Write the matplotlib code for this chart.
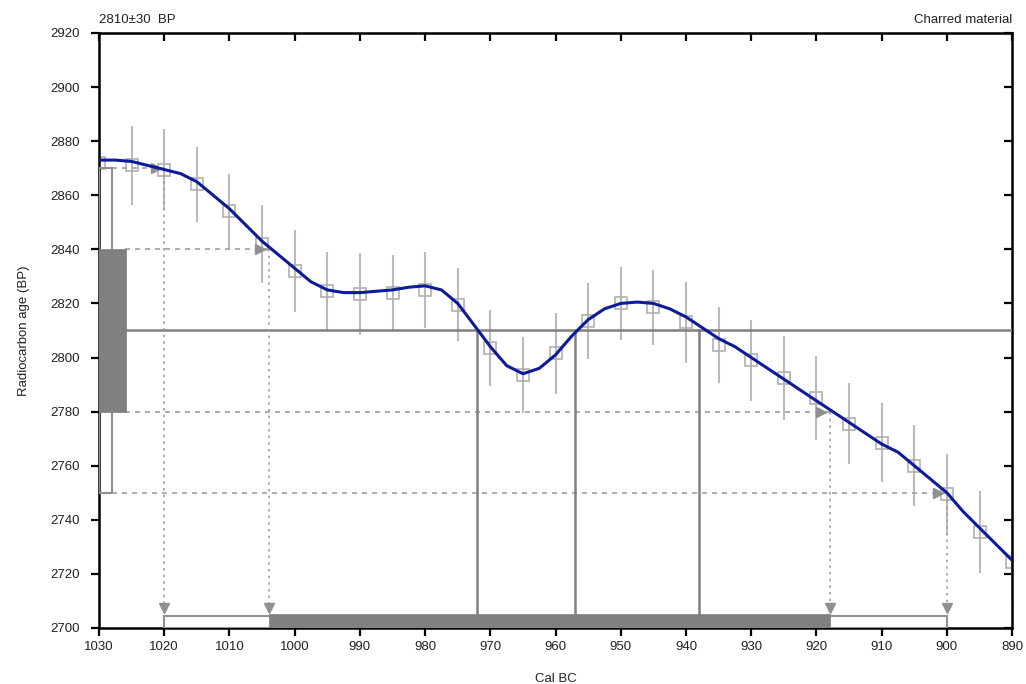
import matplotlib
matplotlib.use("Agg")
import matplotlib.pyplot as plt
from matplotlib.patches import Rectangle

plt.rcParams['font.family'] = ['Liberation Sans', 'DejaVu Sans']

# calibration data points (every 5 years)
cal_years = [1030, 1025, 1020, 1015, 1010, 1005, 1000, 995, 990, 985, 980, 975, 970, 965,
             960, 955, 950, 945, 940, 935, 930, 925, 920, 915, 910, 905, 900, 895, 890]
cal_age = [2872, 2871, 2869.5, 2864, 2854, 2842, 2832, 2824.5, 2823.5, 2824, 2825, 2819.5, 2803.5, 2793.5,
           2801.5, 2813.5, 2820, 2818.5, 2813, 2804.5, 2799, 2792.5, 2785, 2775.5, 2768.5, 2760, 2749.5, 2735.5, 2724.5]
cal_err = [15, 14.6, 15, 14, 14, 14.5, 15, 14.6, 15, 14, 14, 13.5, 14, 14,
           15, 14, 13.5, 14, 15, 14, 15, 15.5, 15.5, 15, 14.5, 15, 15, 15, 14.5]

# smoothed calibration curve
curve_years = [1030, 1027.5, 1025, 1022.5, 1020, 1017.5, 1015, 1012.5, 1010, 1007.5, 1005, 1002.5,
               1000, 997.5, 995, 992.5, 990, 987.5, 985, 982.5, 980, 977.5, 975, 972.5, 970, 967.5,
               965, 962.5, 960, 957.5, 955, 952.5, 950, 947.5, 945, 942.5, 940, 937.5, 935, 932.5,
               930, 927.5, 925, 922.5, 920, 917.5, 915, 912.5, 910, 907.5, 905, 902.5, 900, 897.5,
               895, 892.5, 890]
curve_age = [2873, 2873, 2872.5, 2871, 2869.5, 2868, 2865, 2860, 2855, 2849, 2843, 2838,
             2833, 2828, 2825, 2824, 2824, 2824.5, 2825, 2826, 2826.5, 2825, 2820, 2812, 2804, 2797,
             2794, 2796, 2801, 2808, 2814, 2818, 2820, 2820.5, 2820, 2818, 2815, 2811, 2807, 2804,
             2800, 2796, 2792, 2788, 2784, 2780, 2776, 2772, 2768, 2765, 2760, 2755, 2750, 2743,
             2737, 2731, 2725]

# measurement
c14_age = 2810
c14_sigma = 30
one_sigma = (2780, 2840)
two_sigma = (2750, 2870)

# calibrated ranges (Cal BC)
range_2s = (1020, 900)
range_1s = (1004, 918)
intercepts = [972, 957, 938]

xticks = list(range(1030, 889, -10))
yticks = list(range(2700, 2921, 20))

fig = plt.figure(figsize=(10.26, 6.84), dpi=100)
ax = fig.add_axes([0.0965, 0.0819, 0.89, 0.8699])
ax.set_xlim(1030, 890)
ax.set_ylim(2700, 2920)

gray = '#808080'
lgray = '#bababa'

# error bars
ax.errorbar(cal_years, cal_age, yerr=cal_err, fmt='s', mfc='none', mec='#b0b0b0', ms=8, mew=1.2,
            ecolor=lgray, elinewidth=1.5, capsize=0, zorder=2)

# horizontal measurement line
ax.plot([1026, 890], [c14_age, c14_age], color=gray, lw=1.8, zorder=3)

# dashed horizontal lines to the curve
ax.plot([1028, range_2s[0]], [two_sigma[1]] * 2, color='#a0a0a0', lw=1.2, ls=(0, (3, 3)), zorder=3)
ax.plot([1026, range_1s[0]], [one_sigma[1]] * 2, color='#a0a0a0', lw=1.2, ls=(0, (3, 3)), zorder=3)
ax.plot([1026, range_1s[1]], [one_sigma[0]] * 2, color='#a0a0a0', lw=1.2, ls=(0, (3, 3)), zorder=3)
ax.plot([1028, range_2s[1]], [two_sigma[0]] * 2, color='#a0a0a0', lw=1.2, ls=(0, (3, 3)), zorder=3)

# right-pointing arrowheads
for xv, yv in [(range_2s[0], two_sigma[1]), (range_1s[0], one_sigma[1]),
               (range_1s[1], one_sigma[0]), (range_2s[1], two_sigma[0])]:
    ax.plot([xv + 1.3], [yv], marker='>', color='#909090', ms=7, zorder=3)

# dotted vertical lines
for xv, yv in [(range_2s[0], two_sigma[1]), (range_1s[0], one_sigma[1]),
               (range_1s[1], one_sigma[0]), (range_2s[1], two_sigma[0])]:
    ax.plot([xv, xv], [yv, 2707], color='#a0a0a0', lw=1.2, ls=(0, (1.5, 2.5)), zorder=3)
    ax.plot([xv], [2707.5], marker='v', color='#909090', ms=7, zorder=3)

# intercept verticals
for xv in intercepts:
    ax.plot([xv, xv], [2700, c14_age], color=gray, lw=1.8, zorder=3)

# calibrated range bars
ax.add_patch(Rectangle((range_2s[1], 2700), range_2s[0] - range_2s[1], 4.6,
                       fill=False, ec='#909090', lw=1.5, zorder=4))
ax.add_patch(Rectangle((range_1s[1], 2700), range_1s[0] - range_1s[1], 5.3,
                       fc=gray, ec=gray, lw=0.5, zorder=4))

# measurement probability boxes on the left
ax.add_patch(Rectangle((1030, two_sigma[0]), -2.0, two_sigma[1] - two_sigma[0],
                       fill=False, ec='#909090', lw=1.5, zorder=4))
ax.add_patch(Rectangle((1030, one_sigma[0]), -4.1, one_sigma[1] - one_sigma[0],
                       fc=gray, ec=gray, lw=0.5, zorder=4))

# calibration curve
ax.plot(curve_years, curve_age, color='#0d1a99', lw=2.2, zorder=5)

ax.set_xticks(xticks)
ax.set_yticks(yticks)
ax.tick_params(direction='out', length=6, width=1.6, labelsize=9.5, colors='black',
               labelcolor='#222222')
ax.tick_params(axis='y', pad=7.5)
for s in ax.spines.values():
    s.set_linewidth(1.8)

secx = ax.secondary_xaxis('top')
secx.set_xticks(xticks)
secx.tick_params(direction='in', length=6, width=1.6, labeltop=False)
secy = ax.secondary_yaxis('right')
secy.set_yticks(yticks)
secy.tick_params(direction='in', length=6, width=1.6, labelright=False)

ax.set_xlabel('Cal BC', fontsize=9.5, color='#222222', labelpad=14)
ax.set_ylabel('Radiocarbon age (BP)', fontsize=9.5, color='#222222', labelpad=15)

ax.text(0.0, 1.012, '2810\u00b130  BP', transform=ax.transAxes, ha='left', va='bottom',
        fontsize=9.5, color='#222222')
ax.text(1.0, 1.012, 'Charred material', transform=ax.transAxes, ha='right', va='bottom',
        fontsize=9.5, color='#222222')

fig.savefig('out.png', dpi=100)
